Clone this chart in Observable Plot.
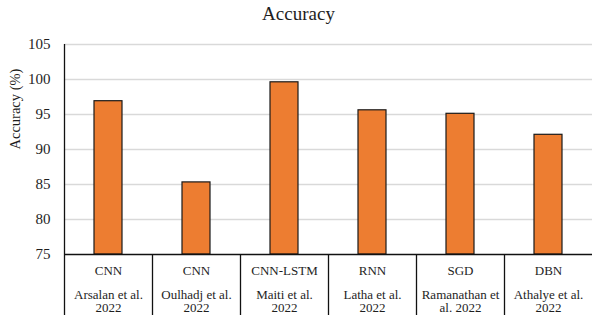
<!DOCTYPE html>
<html>
<head>
<meta charset="utf-8">
<script src="https://cdn.jsdelivr.net/npm/d3@7"></script>
<script src="https://cdn.jsdelivr.net/npm/@observablehq/plot@0.6"></script>
<style>
  html, body { margin: 0; padding: 0; background: #fff; }
  svg, svg text { font-family: "Liberation Serif", "Times New Roman", serif !important; }
</style>
</head>
<body>
<div id="chart"></div>
<script>
const methods = ["CNN", "CNN", "CNN-LSTM", "RNN", "SGD", "DBN"];
const studies = ["Arsalan et al.\n2022", "Oulhadj et al.\n2022", "Maiti et al.\n2022", "Latha et al.\n2022", "Ramanathan et\nal. 2022", "Athalye et al.\n2022"];
const accuracy = [96.9, 85.3, 99.6, 95.6, 95.1, 92.1];
const yTicks = [75, 80, 85, 90, 95, 100, 105];
const title = "Accuracy";
const yLabel = "Accuracy (%)";

const data = studies.map((s, i) => ({study: s, method: methods[i], value: accuracy[i]}));
const W = 592, H = 315, mL = 64, mR = 0, mT = 44, mB = 61;
const half = (W - mL - mR) / studies.length / 2;
const ink = "#1e1e1e";
const serif = "Liberation Serif";

const chart = Plot.plot({
  width: W, height: H,
  marginLeft: mL, marginRight: mR, marginTop: mT, marginBottom: mB,
  style: {color: ink, background: "#fff"},
  x: {domain: studies, paddingInner: 0.682, paddingOuter: 0.341, axis: null},
  y: {domain: [75, 105]},
  marks: [
    Plot.gridY(yTicks.slice(1), {stroke: "#d9d9d9", strokeOpacity: 1, strokeWidth: 1.3}),
    Plot.axisY(yTicks, {tickSize: 0, tickPadding: 14, fontSize: 15, label: null, fill: ink, fontFamily: serif}),
    Plot.barY(data, {x: "study", y1: 75, y2: "value", fill: "#ED7D31", stroke: "#1a1a1a", strokeWidth: 1.2}),
    Plot.ruleY([75], {stroke: "#111", strokeWidth: 1.3}),
    Plot.ruleX([studies[0]], {y1: 75, y2: 105, dx: -half, stroke: "#111", strokeWidth: 1.3}),
    Plot.ruleX(studies, {y1: 75, y2: 66, dx: -half, stroke: "#111", strokeWidth: 1.3}),
    Plot.text(data, {x: "study", text: "method", frameAnchor: "bottom", lineAnchor: "top", dy: 11.5, fontSize: 13, fill: ink, fontFamily: serif}),
    Plot.text(data, {x: "study", text: "study", frameAnchor: "bottom", lineAnchor: "top", dy: 34.5, fontSize: 13, lineHeight: 1.05, fill: ink, fontFamily: serif}),
    Plot.text([title], {frameAnchor: "top", dx: -30, dy: -38.5, fontSize: 19, lineAnchor: "top", fill: ink, fontFamily: serif}),
    Plot.text([yLabel], {frameAnchor: "left", dx: -49, rotate: -90, fontSize: 14.5, fill: ink, fontFamily: serif})
  ]
});
document.getElementById("chart").appendChild(chart);
</script>
</body>
</html>
